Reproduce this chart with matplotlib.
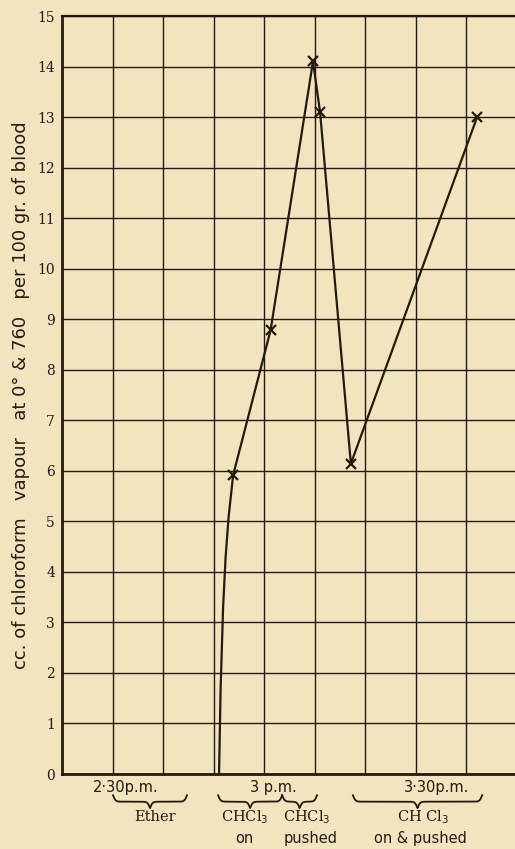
import numpy as np
import matplotlib
matplotlib.use("Agg")
import matplotlib.pyplot as plt
import matplotlib.transforms as mtransforms

# temps en minutes après 2 p.m., valeurs en cc de vapeur
t_points = [53.9, 61.3, 69.7, 71.1, 77.2, 102.2]
v_points = [5.92, 8.78, 14.1, 13.1, 6.14, 13.0]

# montée initiale (sans marqueurs)
lead_t = [51.1, 51.4, 51.9, 52.4, 53.0, 53.9]
lead_v = [0.0, 1.66, 3.3, 4.3, 5.1, 5.92]

y_ticks = list(range(16))
y_labels = [str(v) for v in y_ticks]

# repères horaires sous l'axe
time_labels = ["2·30p.m.", "3 p.m.", "3·30p.m."]
time_pos = [32.7, 61.8, 94.1]

# périodes (accolades) et textes associés
periods = [(30.1, 44.75), (50.9, 63.6), (63.6, 70.5), (77.6, 103.2)]
period_top = ["Ether", "CHCl$_3$", "CHCl$_3$", "CH Cl$_3$"]
period_top_x = [38.4, 56.2, 68.5, 91.5]
period_bot = ["", "on", "pushed", "on & pushed"]
period_bot_x = [0, 56.2, 69.3, 90.9]

ink = "#231a10"
paper = "#f1e4bf"

fig = plt.figure(figsize=(5.15, 8.49), dpi=100, facecolor=paper)
ax = fig.add_axes([62 / 515, 75 / 849, 1 - 62 / 515, 758 / 849])
ax.set_facecolor(paper)

ax.set_xlim(20, 109.7)
ax.set_ylim(0, 15)

# quadrillage
ax.set_xticks(np.arange(30, 110, 10))
ax.set_xticklabels([])
ax.set_yticks(y_ticks)
ax.set_yticklabels(y_labels, fontfamily="DejaVu Serif", fontsize=10, color=ink)
ax.tick_params(length=0, pad=5)
ax.grid(True, color=ink, linewidth=1.0)

for side in ["left", "bottom"]:
    ax.spines[side].set_linewidth(2)
    ax.spines[side].set_color(ink)
ax.spines["top"].set_linewidth(1.6)
ax.spines["top"].set_color(ink)
ax.spines["right"].set_visible(False)

# courbe
ax.plot(lead_t, lead_v, color=ink, linewidth=1.6, zorder=3)
ax.plot(t_points, v_points, color=ink, linewidth=1.6, marker="x",
        markersize=7, markeredgewidth=1.6, zorder=3)

ax.text(-0.09, 0.5,
        "cc. of chloroform   vapour   at 0° & 760   per 100 gr. of blood",
        transform=ax.transAxes, rotation=90, ha="center", va="center",
        fontsize=13, color=ink)

trans = mtransforms.blended_transform_factory(ax.transData, ax.transAxes)


def brace(x0, x1, y_top=-0.028, depth=0.017, beta=4.0):
    x = np.linspace(x0, x1, 301)
    xm = (x0 + x1) / 2
    d = np.where(x <= xm, x - x0, x1 - x)
    s = 1 / (1 + np.exp(-beta * d)) + 1 / (1 + np.exp(-beta * (d - (xm - x0))))
    y = y_top - depth * (s - 0.5)
    ax.plot(x, y, color=ink, linewidth=1.3, transform=trans, clip_on=False)


for lab, xp in zip(time_labels, time_pos):
    ax.text(xp, -0.018, lab, transform=trans, ha="center", va="center",
            fontsize=10.5, color=ink)

for (x0, x1) in periods:
    brace(x0, x1)

for lab, xp in zip(period_top, period_top_x):
    ax.text(xp, -0.057, lab, transform=trans, ha="center", va="center",
            fontsize=10.5, color=ink, fontfamily="DejaVu Serif")

for lab, xp in zip(period_bot, period_bot_x):
    if lab:
        ax.text(xp, -0.085, lab, transform=trans, ha="center", va="center",
                fontsize=10.5, color=ink)

fig.savefig("out.png", dpi=100, facecolor=paper)
